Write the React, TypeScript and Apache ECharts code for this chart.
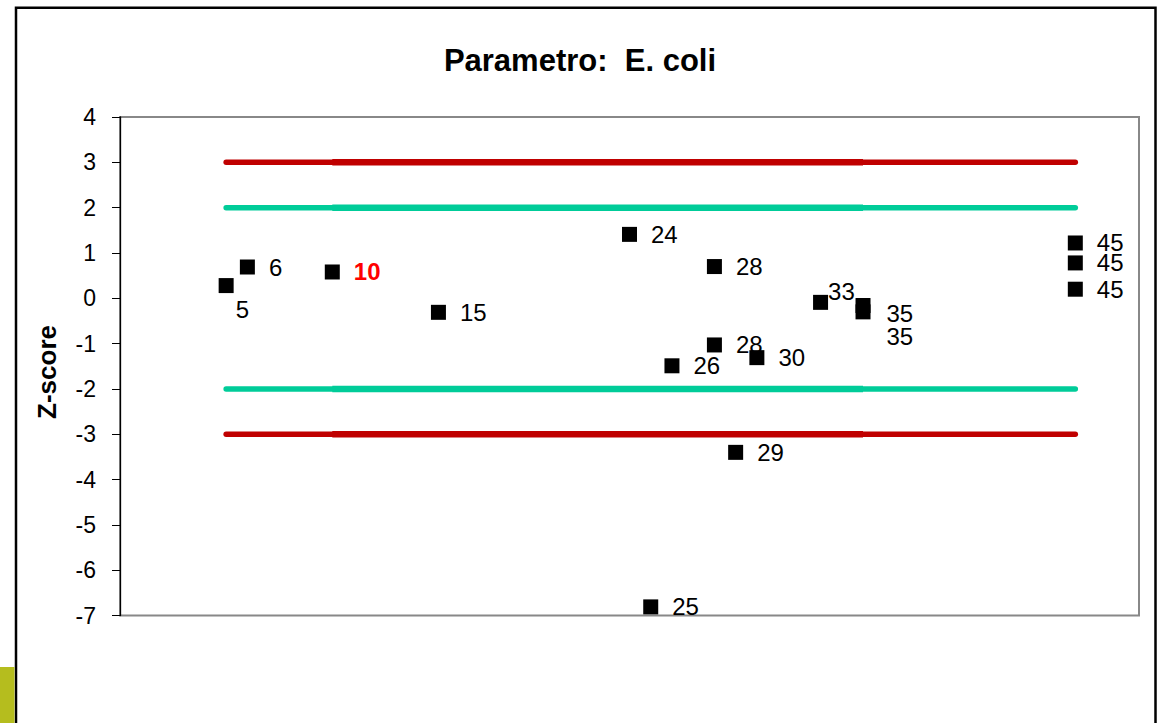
import React, { useEffect, useRef } from "react";
import * as echarts from "echarts";

// Lab IDs (x) and their Z-scores (y)
const labIds = [5, 6, 10, 15, 24, 25, 26, 28, 28, 29, 30, 33, 35, 35, 45, 45, 45];
const zScores = [0.28, 0.69, 0.58, -0.31, 1.41, -6.81, -1.49, 0.7, -1.03, -3.4, -1.31, -0.09, -0.16, -0.3, 1.22, 0.78, 0.2];

// Limits
const actionLimits = [3, -3];
const warningLimits = [2, -2];
const limitSpanFull = [5, 45];
const limitSpanInner = [10, 35];

// Axes
const yMin = -7;
const yMax = 4;
const yStep = 1;
const xMin = 0;
const xMax = 48;

const highlightedLab = 10;
const titleText = "Parametro:  E. coli";
const yAxisTitle = "Z-score";

// label placement tweaks (style only), keyed by point index
const labelOffsets: Record<number, [number, number]> = {
  0: [-12, 24],
  11: [-14, -11],
  12: [2, 8],
  13: [2, 25],
};

const FONT = "'Liberation Sans', Arial, sans-serif";

export default function App() {
  const ref = useRef<HTMLDivElement>(null);
  useEffect(() => {
    if (!ref.current) return;
    const chart = echarts.init(ref.current, undefined, { renderer: "svg" });

    const limitSeries: any[] = [];
    const addLimit = (v: number, color: string, name: string) => {
      limitSeries.push({
        name,
        type: "line",
        data: limitSpanFull.map((x) => [x, v]),
        symbol: "none",
        lineStyle: { color, width: 5.5, cap: "round" },
        z: 2,
        silent: true,
      });
      limitSeries.push({
        name,
        type: "line",
        data: limitSpanInner.map((x) => [x, v]),
        symbol: "none",
        lineStyle: { color, width: 6.5, cap: "butt" },
        z: 2,
        silent: true,
      });
    };
    actionLimits.forEach((v) => addLimit(v, "#c00000", "action"));
    warningLimits.forEach((v) => addLimit(v, "#00cc99", "warning"));

    const scatterData = labIds.map((id, i) => {
      const off = labelOffsets[i];
      const item: any = { value: [id, zScores[i]] };
      const lbl: any = {};
      if (off) lbl.offset = off;
      if (id === highlightedLab) {
        lbl.color = "#ff0000";
        lbl.fontWeight = "bold";
      }
      item.label = lbl;
      return item;
    });

    chart.setOption({
      animation: false,
      backgroundColor: "#ffffff",
      title: {
        text: titleText,
        left: "center",
        top: 40,
        textStyle: { fontFamily: FONT, fontSize: 31, fontWeight: "bold", color: "#000" },
      },
      grid: {
        left: 120,
        top: 117,
        right: 21,
        bottom: 107.5,
        show: true,
        borderColor: "#888888",
        borderWidth: 2,
        backgroundColor: "transparent",
      },
      xAxis: {
        type: "value",
        min: xMin,
        max: xMax,
        axisLine: { show: false },
        axisTick: { show: false },
        axisLabel: { show: false },
        splitLine: { show: false },
      },
      yAxis: {
        type: "value",
        min: yMin,
        max: yMax,
        interval: yStep,
        axisLine: { show: true, onZero: false, lineStyle: { color: "#000", width: 1.3 } },
        axisTick: { show: true, inside: false, length: 8, lineStyle: { color: "#000", width: 1 } },
        axisLabel: { fontFamily: FONT, fontSize: 23, color: "#000", margin: 24 },
        splitLine: { show: false },
      },
      series: [
        ...limitSeries,
        {
          type: "scatter",
          symbol: "rect",
          symbolSize: 15,
          itemStyle: { color: "#000", opacity: 1 },
          z: 5,
          label: {
            show: true,
            position: "right",
            distance: 14,
            fontFamily: FONT,
            fontSize: 24,
            color: "#000",
            opacity: 1,
            formatter: (p: any) => String(p.value[0]),
          },
          data: scatterData,
        },
      ],
      graphic: [
        {
          type: "rect",
          shape: { x: 16, y: 7.7, width: 1139.5, height: 760 },
          style: { fill: "none", stroke: "#000", lineWidth: 2.5 },
          silent: true,
        },
        {
          type: "rect",
          shape: { x: 0, y: 667, width: 14.5, height: 60 },
          style: { fill: "#b5bd1e" },
          silent: true,
        },
        {
          type: "text",
          x: 47,
          y: 372,
          rotation: Math.PI / 2,
          style: {
            text: yAxisTitle,
            fontFamily: FONT,
            fontSize: 26,
            fontWeight: "bold",
            fill: "#000",
            align: "center",
            verticalAlign: "middle",
          },
        },
      ],
    });
    return () => chart.dispose();
  }, []);
  return (
    <div
      ref={ref}
      style={{ position: "absolute", left: 0, top: 0, width: 1160, height: 723 }}
    />
  );
}
